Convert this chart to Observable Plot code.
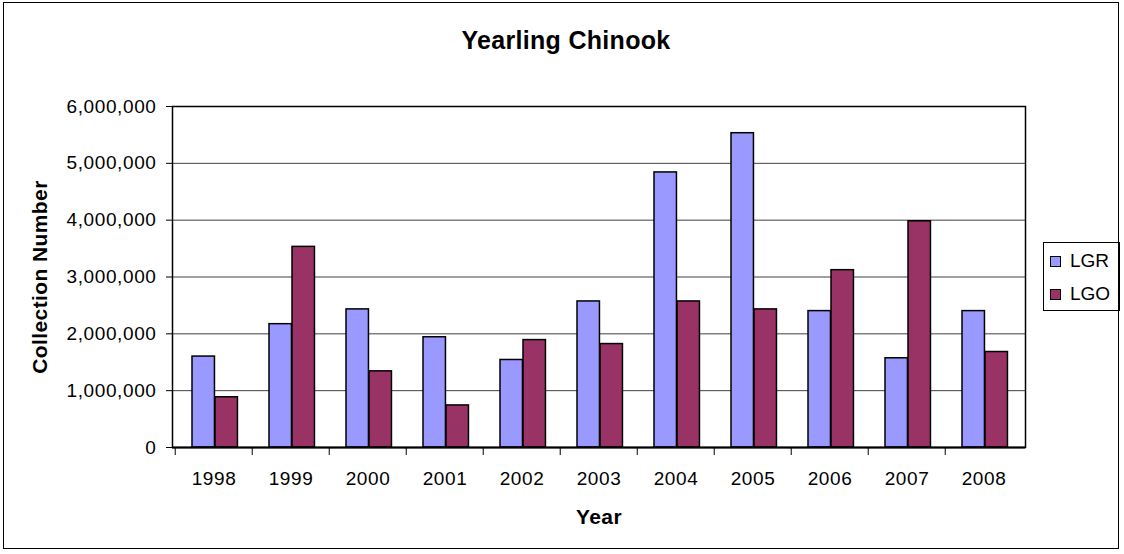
<!DOCTYPE html>
<html><head><meta charset="utf-8">
<script src="https://cdn.jsdelivr.net/npm/d3@7"></script>
<script src="https://cdn.jsdelivr.net/npm/@observablehq/plot@0.6"></script>
<style>
html,body{margin:0;padding:0;background:#fff;overflow:hidden;}
#wrap{position:relative;width:1124px;height:554px;font-family:"Liberation Sans",Arial,sans-serif;color:#000;}
#chart{position:absolute;left:0;top:0;}
#border{position:absolute;left:3px;top:2px;width:1114px;height:545px;border:1.5px solid #000;pointer-events:none;}
#title{position:absolute;left:0;width:1132px;top:25px;text-align:center;font-weight:bold;font-size:25px;letter-spacing:0.3px;line-height:30px;}
#legend{position:absolute;left:1043px;top:242px;width:75px;height:67px;border:1px solid #000;background:#fff;font-size:19px;}
.item{position:absolute;left:6px;height:22px;line-height:22px;white-space:nowrap;}
.sw{position:absolute;left:0;top:6px;width:9px;height:9px;border:1px solid #000;}
.lbl{position:absolute;left:20px;top:0;}
</style>
</head><body>
<div id="wrap">
  <div id="chart"></div>
  <div id="title">Yearling Chinook</div>
  <div id="legend"></div>
  <div id="border"></div>
</div>
<script>
const years = ["1998","1999","2000","2001","2002","2003","2004","2005","2006","2007","2008"];
const lgr = [1600000, 2170000, 2430000, 1940000, 1540000, 2570000, 4840000, 5530000, 2400000, 1570000, 2400000];
const lgo = [884000, 3530000, 1340000, 740000, 1890000, 1820000, 2570000, 2430000, 3120000, 3980000, 1680000];
const seriesNames = ["LGR", "LGO"];
const seriesColors = ["#9999FF", "#993366"];
const yTicks = [0, 1000000, 2000000, 3000000, 4000000, 5000000, 6000000];

const rowsLGR = years.map((y, i) => ({year: y, value: lgr[i], series: "LGR"}));
const rowsLGO = years.map((y, i) => ({year: y, value: lgo[i], series: "LGO"}));

const W = 1124, H = 554;
const mL = 172, mR = 99, mT = 106, mB = 107;
const bw = (W - mL - mR) / years.length;

const chart = Plot.plot({
  width: W, height: H,
  marginLeft: mL, marginRight: mR, marginTop: mT, marginBottom: mB,
  style: {fontFamily: '"Liberation Sans", Arial, sans-serif', fontSize: "19px", color: "#000", background: "transparent", letterSpacing: "0.6px"},
  x: {domain: years, padding: 0, label: null},
  y: {domain: [0, 6000000], label: null},
  marks: [
    Plot.gridY(yTicks, {stroke: "#000", strokeOpacity: 0.75, strokeWidth: 1}),
    Plot.barY(rowsLGR, {x: "year", y: "value", fill: seriesColors[0], stroke: "#000", strokeWidth: 1.5, insetLeft: 17, insetRight: bw - 40}),
    Plot.barY(rowsLGO, {x: "year", y: "value", fill: seriesColors[1], stroke: "#000", strokeWidth: 1.5, insetLeft: 40, insetRight: bw - 63}),
    Plot.frame({stroke: "#000", strokeWidth: 1.5}),
    Plot.ruleY([0], {stroke: "#000", strokeWidth: 2}),
    Plot.axisY(yTicks, {tickSize: 6, tickPadding: 10, tickFormat: d3.format(","), stroke: "#000", fontSize: 19,
      label: "Collection Number", labelAnchor: "center", labelArrow: "none", labelOffset: 140}),
    Plot.axisX(years, {tickSize: 8, tickFormat: () => "", dx: -bw / 2, stroke: "#000", label: null}),
    Plot.axisX(years, {tickSize: 0, tickPadding: 24, fontSize: 19, label: "Year", labelAnchor: "center", labelArrow: "none", labelOffset: 76})
  ]
});
document.getElementById("chart").appendChild(chart);

// bold axis titles only
d3.select(chart).selectAll("g[aria-label='y-axis label'] text, g[aria-label='x-axis label'] text")
  .style("font-weight", "bold").style("font-size", "21px").style("letter-spacing", "0.4px");

const legend = document.getElementById("legend");
seriesNames.forEach((name, i) => {
  const d = document.createElement("div");
  d.className = "item";
  d.style.top = (i === 0 ? 7 : 40) + "px";
  d.innerHTML = `<span class="sw" style="background:${seriesColors[i]}"></span><span class="lbl">${name}</span>`;
  legend.appendChild(d);
});
</script>
</body></html>
